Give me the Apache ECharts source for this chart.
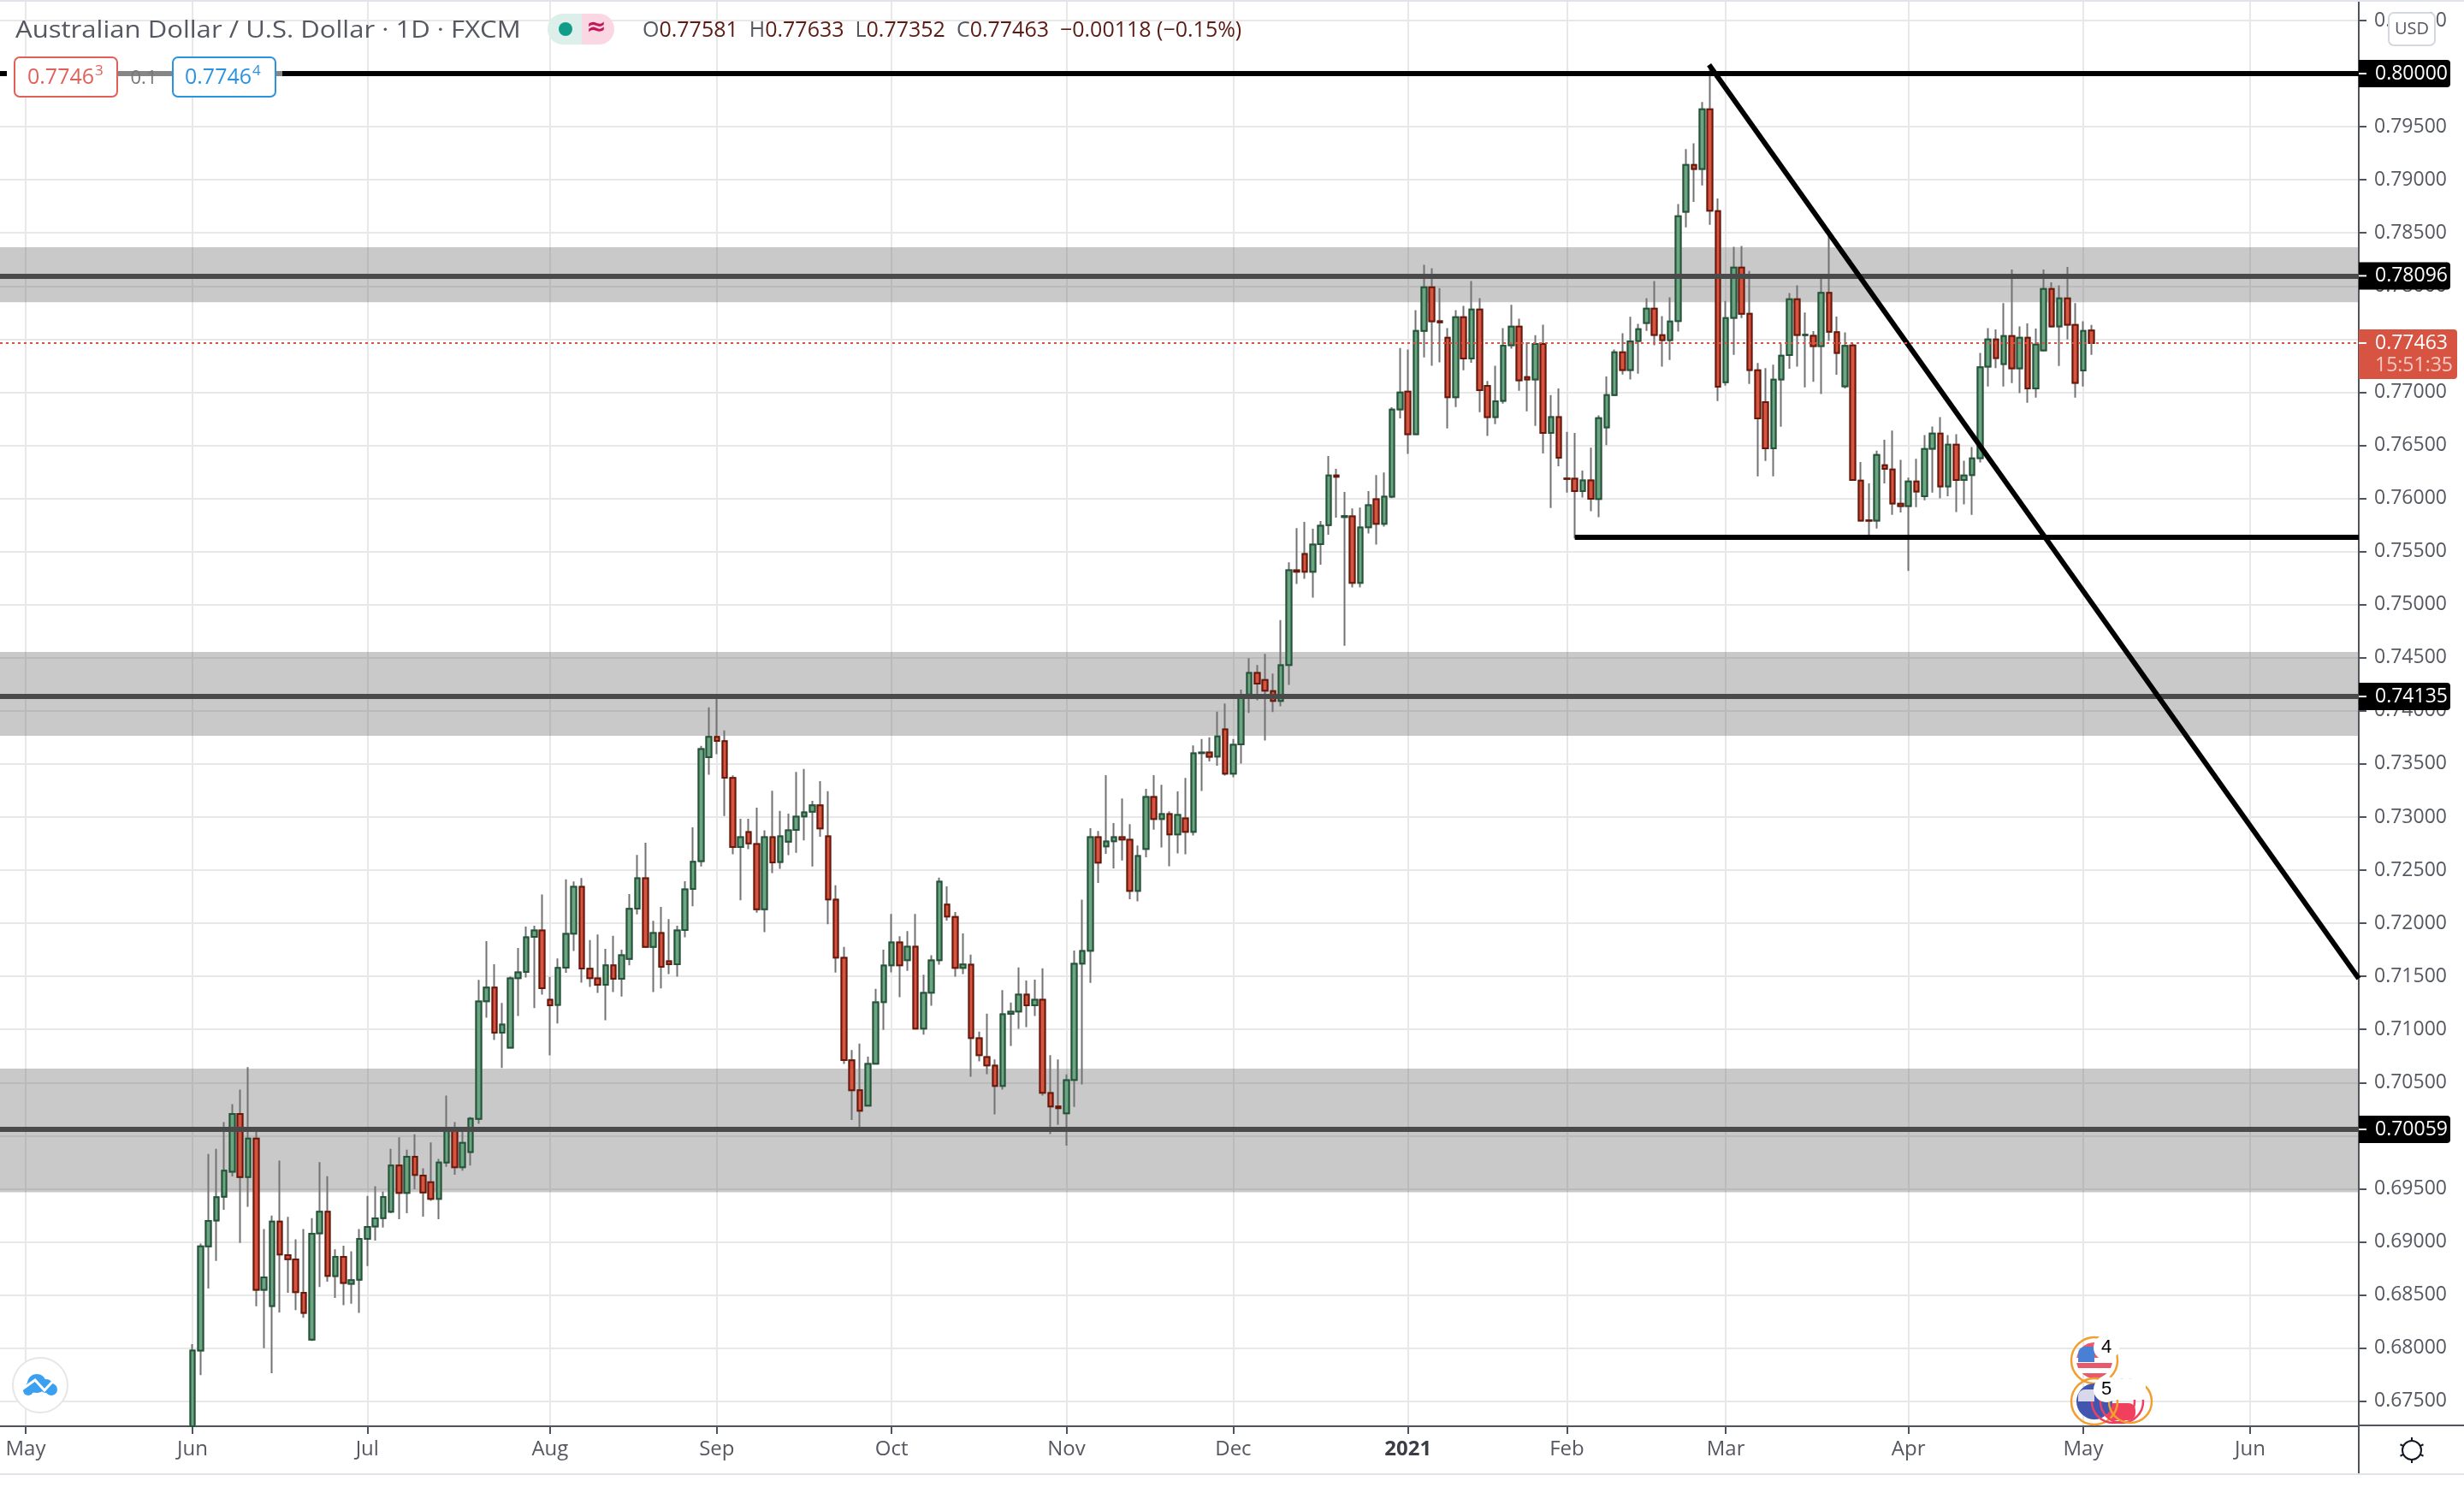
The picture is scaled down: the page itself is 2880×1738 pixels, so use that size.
<![CDATA[<!DOCTYPE html>
<html><head><meta charset="utf-8">
<style>html,body{margin:0;padding:0;background:#fff}#c{width:2880px;height:1738px}</style>
<script src="https://cdn.jsdelivr.net/npm/echarts@6/dist/echarts.min.js"></script>
</head><body><div id="c"></div>
<script>
const monthBars=[0,21,43,66,87,109,131,152,174,194,214,237,259,280];
const monthLabels=['May','Jun','Jul','Aug','Sep','Oct','Nov','Dec','{b|2021}','Feb','Mar','Apr','May','Jun'];
const priceTicks=[0.675,0.68,0.685,0.69,0.695,0.7,0.705,0.71,0.715,0.72,0.725,0.73,0.735,0.74,0.745,0.75,0.755,0.76,0.765,0.77,0.775,0.78,0.785,0.79,0.795,0.8,0.805];
const firstCandleBar=21;
const opens=[.67264,.67977,.68957,.69202,.69425,.69660,.70204,.69611,.69973,.68549,.68396,.69191,.68875,.68835,.68521,.68080,.69080,.69284,.68677,.68859,
.68606,.68644,.69028,.69145,.69224,.69284,.69720,.69461,.69801,.69624,.69562,.69404,.69747,.70074,.69703,.69845,.70158,.71266,.71394,.70969,
.70828,.71484,.71541,.71871,.71933,.71280,.71231,.71582,.71903,.72344,.71571,.71481,.71421,.71604,.71478,.71664,.72138,.72423,.71778,.71909,
.71642,.71615,.71936,.72323,.72584,.73564,.73755,.73714,.73368,.72717,.72859,.72747,.72132,.72810,.72576,.72769,.72878,.73006,.73050,.73110,
.72818,.72222,.71675,.70710,.70428,.70283,.70678,.71258,.71604,.71819,.71653,.71779,.71008,.71347,.71653,.72176,.72060,.71580,.71610,.70917,
.70740,.70659,.70469,.71146,.71169,.71328,.71228,.71279,.70401,.70275,.70211,.70525,.71621,.71741,.72810,.72724,.72772,.72810,.72786,.72305,
.72700,.73189,.72982,.73027,.72837,.72987,.72861,.73602,.73607,.73570,.73825,.73409,.73685,.74153,.74357,.74290,.74185,.74094,.74432,.75323,
.75476,.75310,.75570,.75748,.76217,.75825,.75831,.75205,.75729,.75992,.75761,.76016,.76839,.77005,.76605,.77577,.77988,.77669,.77513,.76954,
.77706,.77317,.77779,.77059,.76766,.76919,.77443,.77618,.77142,.77121,.77454,.76616,.76766,.76188,.76185,.76070,.76169,.75995,.76670,.76973,
.77376,.77209,.77483,.77652,.77786,.77537,.77491,.77671,.78699,.79140,.79102,.79663,.78705,.77094,.77700,.78173,.77738,.77206,.76906,.76471,
.77121,.77349,.77875,.77537,.77532,.77434,.77937,.77565,.77056,.77440,.76168,.75794,.75792,.76313,.76272,.75950,.75929,.76160,.76020,.76468,
.76611,.76114,.76506,.76173,.76221,.76380,.77242,.77497,.77266,.77529,.77226,.77513,.77035,.77395,.77972,.77620,.77883,.77634,.77204,.77581];
const closes=[.67977,.68957,.69197,.69420,.69671,.70204,.69611,.69973,.68549,.68666,.69191,.68881,.68837,.68527,.68331,.69077,.69284,.68679,.68859,.68614,
.68639,.69028,.69142,.69221,.69423,.69720,.69461,.69801,.69630,.69466,.69404,.69747,.70074,.69703,.69932,.70161,.71263,.71394,.70969,.71046,
.71481,.71538,.71868,.71933,.71389,.71228,.71579,.71901,.72344,.71574,.71484,.71421,.71604,.71478,.71699,.72135,.72423,.71778,.71909,.71590,
.71615,.71933,.72320,.72579,.73641,.73755,.73717,.73371,.72717,.72810,.72753,.72132,.72810,.72573,.72818,.72875,.73003,.73044,.73110,.72894,
.72225,.71677,.70711,.70428,.70235,.70675,.71255,.71602,.71819,.71604,.71779,.71008,.71344,.71650,.72391,.72063,.71580,.71612,.70920,.70759,
.70662,.70469,.71143,.71167,.71328,.71228,.71279,.70404,.70275,.70259,.70522,.71618,.71739,.72810,.72571,.72770,.72810,.72788,.72305,.72633,
.73189,.72982,.73027,.72837,.73019,.72861,.73599,.73607,.73567,.73760,.73409,.73680,.74147,.74357,.74257,.74190,.74094,.74429,.75323,.75310,
.75310,.75565,.75742,.76217,.76204,.75834,.75205,.75726,.75936,.75761,.76016,.76836,.76997,.76605,.77577,.77988,.77669,.77658,.76954,.77706,
.77317,.77779,.77019,.76766,.76914,.77438,.77618,.77113,.77121,.77454,.76616,.76766,.76384,.76183,.76070,.76169,.75997,.76756,.76973,.77376,
.77209,.77478,.77593,.77786,.77539,.77491,.77666,.78656,.79140,.79102,.79663,.78710,.77051,.77698,.78173,.77738,.77209,.76753,.76471,.77118,
.77343,.77875,.77539,.77542,.77434,.77937,.77569,.77371,.77437,.76173,.75792,.75790,.76409,.76278,.75953,.75929,.76160,.76066,.76466,.76611,
.76114,.76506,.76173,.76216,.76377,.77236,.77497,.77322,.77529,.77226,.77513,.77035,.77448,.77972,.77620,.77883,.77636,.77089,.77577,.77463];
const lows=[.67264,.67745,.68562,.68821,.69303,.69616,.68990,.69330,.68393,.67999,.67764,.68336,.68521,.68358,.68285,.68067,.68576,.68625,.68472,.68404,
.68418,.68331,.68772,.69012,.69134,.69270,.69213,.69270,.69496,.69238,.69387,.69213,.69706,.69632,.69671,.69720,.70112,.71111,.70901,.70637,
.70820,.71127,.71489,.71201,.71329,.70757,.71056,.71533,.71740,.71440,.71400,.71345,.71086,.71353,.71310,.71604,.72083,.71772,.71353,.71386,
.71522,.71498,.71868,.72159,.72535,.73398,.73592,.73009,.72649,.72216,.72698,.72099,.71917,.72472,.72513,.72641,.72663,.72780,.72535,.72815,
.71990,.71536,.70675,.70149,.70055,.70283,.70678,.70995,.71537,.71304,.71551,.71000,.70952,.71223,.71610,.72026,.71497,.71521,.70555,.70700,
.70579,.70200,.70434,.70844,.71006,.71022,.71126,.70377,.70015,.70101,.69907,.70270,.70482,.71438,.72380,.72654,.72517,.72590,.72227,.72206,
.72622,.72880,.72713,.72536,.72657,.72649,.72826,.73245,.73524,.73484,.73390,.73374,.73503,.73981,.74099,.73720,.73989,.74043,.74244,.75195,
.75243,.75066,.75377,.75659,.75820,.74612,.75162,.75162,.75670,.75565,.75734,.76002,.76753,.76419,.76597,.77328,.77250,.77282,.76659,.76860,
.77207,.77277,.76812,.76589,.76699,.76893,.77411,.77013,.76820,.76683,.76424,.75909,.76303,.76054,.75624,.76008,.75879,.75823,.76503,.76968,
.77166,.77121,.77174,.77577,.77443,.77241,.77303,.77572,.78552,.78791,.78946,.78576,.76916,.77061,.77351,.77698,.77078,.76208,.76353,.76208,
.76675,.77222,.77241,.77045,.77099,.76984,.77483,.77164,.77035,.76168,.75784,.75625,.75717,.76141,.75845,.75867,.75317,.75918,.75982,.76055,
.76000,.76020,.75872,.75945,.75845,.76339,.77054,.77228,.77054,.77086,.76992,.76901,.76949,.77384,.77609,.77247,.77497,.76949,.77054,.77352];
const highs=[.68037,.68984,.69828,.69877,.70128,.70297,.70433,.70645,.70046,.69120,.69248,.69766,.69235,.69025,.69120,.69224,.69752,.69619,.68930,.68963,
.68911,.69120,.69434,.69523,.69474,.69877,.69984,.69869,.70014,.69692,.69937,.69782,.70378,.70128,.70052,.70177,.71468,.71832,.71615,.71250,
.71500,.71767,.71969,.71977,.72271,.71495,.71669,.72413,.72393,.72426,.71841,.71895,.71759,.71882,.71751,.72274,.72644,.72758,.72023,.72154,
.72039,.71977,.72396,.72903,.73671,.74033,.74142,.73815,.73393,.72984,.72984,.73088,.72875,.73248,.73058,.73033,.73425,.73453,.73153,.73338,
.73243,.72358,.71778,.70807,.70866,.70745,.71382,.71752,.72088,.71878,.71927,.72088,.71516,.71698,.72429,.72348,.72106,.71905,.71704,.70979,
.71148,.70718,.71371,.71253,.71583,.71462,.71470,.71575,.70759,.70718,.70576,.71744,.72222,.72896,.72869,.73395,.72944,.73175,.72933,.72732,
.73266,.73395,.73304,.73054,.73242,.73368,.73675,.73734,.73750,.73992,.74069,.73734,.74201,.74496,.74432,.74537,.74351,.74854,.75399,.75721,
.75780,.75715,.75788,.76400,.76279,.76062,.75906,.75914,.76070,.76220,.76244,.76858,.77416,.77403,.77773,.78200,.78168,.77980,.77604,.77773,
.77814,.78047,.77886,.77107,.77250,.77604,.77824,.77693,.77470,.77537,.77636,.76973,.77035,.76626,.76616,.76263,.76478,.76783,.77148,.77403,
.77556,.77711,.77644,.77886,.78047,.77717,.77894,.78772,.79290,.79344,.79733,.80080,.78825,.77859,.78369,.78377,.78141,.77276,.77228,.77260,
.77456,.77934,.78007,.77751,.77575,.78101,.78489,.77713,.77564,.77456,.76342,.76141,.76450,.76552,.76638,.76364,.76195,.76374,.76597,.76678,
.76766,.76597,.76605,.76356,.76484,.77371,.77604,.77591,.77840,.78155,.77620,.77647,.77599,.78155,.78034,.78007,.78179,.77840,.77669,.77633];
const levelLines=[0.8,0.78096,0.74135,0.70059];
const levelColors=['#000000','#4a4a4a','#4a4a4a','#4a4a4a'];
const zoneTops=[0.78365,0.74555,0.70632];
const zoneBottoms=[0.77847,0.73765,0.69468];
const trendLine=[[211.9,0.80083],[293.68,0.7148]];
const supportLine=[[195,0.75634],[293.68,0.75634]];
const lastPrice=0.77463;
const xMin=-3.23,xMax=293.68,yMin=0.67264,yMax=0.80677;
const FONT='"Open Sans"';
const AX='#50535e',TXT='#555860';

const chart=echarts.init(document.getElementById('c'),null,{renderer:'canvas',devicePixelRatio:1});
const x=opens.map((_,i)=>firstCandleBar+i);
const wick=opens.map((o,i)=>[x[i],o,closes[i],lows[i],highs[i]]);
const body=opens.map((o,i)=>[x[i],o,closes[i],Math.min(o,closes[i]),Math.max(o,closes[i])]);
const thick=(c,w)=>({color:c,width:w,type:'solid',cap:'butt'});
const acrossChart=(v,style)=>[{coord:[xMin,v],lineStyle:style},{coord:[xMax,v]}];
chart.setOption({
 animation:false,backgroundColor:'#fff',
 grid:{left:0,right:123,top:2,bottom:71,containLabel:false},
 xAxis:{type:'value',min:xMin,max:xMax,
  axisLine:{onZero:false,lineStyle:{color:AX,width:2}},
  axisTick:{customValues:monthBars,length:9,lineStyle:{color:AX,width:2}},
  axisLabel:{customValues:monthBars,margin:15,color:TXT,fontFamily:FONT,fontSize:24,
   formatter:v=>monthLabels[monthBars.indexOf(v)]||'',
   rich:{b:{fontFamily:FONT,fontSize:24,fontWeight:'bold',color:'#3a3d45'}}},
  splitLine:{show:true,lineStyle:{color:'#e8e8e8',width:2}}},
 yAxis:{type:'value',position:'right',min:yMin,max:yMax,
  axisLine:{show:true,onZero:false,lineStyle:{color:AX,width:2}},
  axisTick:{show:true,customValues:priceTicks,length:9,lineStyle:{color:AX,width:2}},
  axisLabel:{customValues:priceTicks,margin:18,color:TXT,fontFamily:FONT,fontSize:23,formatter:v=>v.toFixed(5)},
  splitLine:{show:true,lineStyle:{color:'#e8e8e8',width:2}}},
 series:[
  {type:'line',name:'zones',z:1,data:[],silent:true,
   markArea:{silent:true,itemStyle:{color:'rgba(100,100,100,0.35)'},
    data:zoneTops.map((t,i)=>[{yAxis:t},{yAxis:zoneBottoms[i]}])}},
  {type:'line',name:'levels',z:2,data:[],silent:true,
   markLine:{silent:true,symbol:'none',precision:5,label:{show:false},animation:false,
    data:levelLines.map((v,i)=>acrossChart(v,thick(levelColors[i],6)))
     .concat([[{coord:supportLine[0],lineStyle:thick('#000',6)},{coord:supportLine[1]}],
              [{coord:trendLine[0],lineStyle:thick('#000',6)},{coord:trendLine[1]}]])}},
  {type:'candlestick',name:'wicks',z:3,data:wick,encode:{x:0,y:[1,2,3,4]},barWidth:6,silent:true,
   itemStyle:{color:'#737375',color0:'#737375',borderColor:'#737375',borderColor0:'#737375',borderWidth:2}},
  {type:'candlestick',name:'AUDUSD',z:4,data:body,encode:{x:0,y:[1,2,3,4]},barWidth:6,silent:true,
   itemStyle:{color:'#6ba583',color0:'#d75442',borderColor:'#225437',borderColor0:'#6b1707',borderWidth:2}},
  {type:'line',name:'last',z:5,data:[],silent:true,
   markLine:{silent:true,symbol:'none',precision:5,label:{show:false},animation:false,
    data:[acrossChart(lastPrice,{color:'#d75442',width:2,type:[3,4]})]}}
 ]
});

const py=v=>chart.convertToPixel({yAxisIndex:0},v);
const RIGHT=2757;
const tag=(v)=>[
 {type:'rect',z:60,shape:{x:RIGHT,y:py(v)-16,width:107,height:32,r:[0,4,4,0]},style:{fill:'#000'}},
 {type:'rect',z:61,shape:{x:RIGHT,y:py(v)-1,width:9,height:2},style:{fill:'#fff'}},
 {type:'text',z:62,style:{x:2776,y:py(v),text:v.toFixed(5),fill:'#fff',font:'23px '+FONT,textVerticalAlign:'middle'}}
];
const ringFlag=[];
const ring=(cx,cy,r,c)=>({type:'circle',z:50,shape:{cx,cy,r},style:{fill:'none',stroke:c,lineWidth:2.5}});
const stripes=(a,b)=>{const s=[];const n=7;for(let i=0;i<n;i++){s.push({offset:i/n,color:i%2?b:a},{offset:(i+1)/n,color:i%2?b:a});}return {type:'linear',x:0,y:0,x2:0,y2:1,colorStops:s};};
ringFlag.push(
 {type:'circle',z:50,shape:{cx:2448,cy:1590,r:21},style:{fill:stripes('#e8596a','#ffffff')}},
 {type:'rect',z:51,shape:{x:2429,y:1574,width:19,height:18,r:[8,0,0,0]},style:{fill:'#4a7fd6'}},
 ring(2448,1590,27,'#f0a030'),
 {type:'circle',z:52,shape:{cx:2462,cy:1575,r:15},style:{fill:'#fff'}},
 {type:'text',z:53,style:{x:2462,y:1575,text:'4',fill:'#000',font:'22px "Liberation Sans"',textAlign:'center',textVerticalAlign:'middle'}},
 {type:'rect',z:50,shape:{x:2462,y:1640,width:34,height:20,r:8},style:{fill:'#f0405e'}},
 {type:'circle',z:50,shape:{cx:2448,cy:1638,r:21},style:{fill:'#4056b0'}},
 {type:'rect',z:51,shape:{x:2429,y:1624,width:19,height:14,r:[8,0,0,0]},style:{fill:'#d8d8ea'}},
 ring(2448,1638,27,'#f0a030'),ring(2470,1638,25,'#f0405e'),ring(2480,1638,25,'#f0405e'),ring(2490,1638,25,'#f0a030'),
 {type:'rect',z:52,shape:{x:2470,y:1612,width:38,height:24},style:{fill:'#fff'}},
 {type:'circle',z:52,shape:{cx:2462,cy:1624,r:15},style:{fill:'#fff'}},
 {type:'text',z:53,style:{x:2462,y:1624,text:'5',fill:'#000',font:'22px "Liberation Sans"',textAlign:'center',textVerticalAlign:'middle'}}
);
const gear=[{type:'circle',z:50,shape:{cx:2819,cy:1695,r:11},style:{fill:'none',stroke:'#131722',lineWidth:2}}];
[[0,-1],[0,1],[.9,.45],[-.9,.45],[.9,-.45],[-.9,-.45]].forEach(d=>gear.push({type:'line',z:50,shape:{x1:2819+d[0]*11,y1:1695+d[1]*11,x2:2819+d[0]*15,y2:1695+d[1]*15},style:{stroke:'#131722',lineWidth:2}}));
const cloud=[[37,1621,7],[43,1617,11],[54,1620,8],[60,1624,7],[33,1625,6]].map(c=>({type:'circle',z:42,shape:{cx:c[0],cy:c[1],r:c[2]},style:{fill:'#3aa0ef'}}));

chart.setOption({graphic:{elements:[
 {type:'rect',z:40,shape:{x:0,y:0,width:2880,height:2},style:{fill:'#e0e3eb'}},
 {type:'rect',z:40,shape:{x:0,y:1722,width:2880,height:2},style:{fill:'#e0e3eb'}},
 {type:'line',z:40,shape:{x1:RIGHT,y1:1666,x2:2880,y2:1666},style:{stroke:AX,lineWidth:2}},
 {type:'line',z:40,shape:{x1:RIGHT,y1:1666,x2:RIGHT,y2:1722},style:{stroke:AX,lineWidth:2}},
 {type:'text',z:41,x:18,y:36,scaleX:1.11,style:{x:0,y:0,text:'Australian Dollar / U.S. Dollar · 1D · FXCM',fill:'#555860',font:'28px '+FONT,textVerticalAlign:'middle'}},
 {type:'rect',z:41,shape:{x:640,y:16,width:40,height:36,r:[18,0,0,18]},style:{fill:'#dcefeb'}},
 {type:'rect',z:41,shape:{x:680,y:16,width:38,height:36,r:[0,18,18,0]},style:{fill:'#fbd7e3'}},
 {type:'circle',z:42,shape:{cx:661,cy:34,r:8},style:{fill:'#0f9d8a'}},
 {type:'text',z:42,style:{x:697,y:33,text:'≈',fill:'#c2185b',font:'bold 28px "DejaVu Sans"',textAlign:'center',textVerticalAlign:'middle'}},
 {type:'text',z:41,style:{x:751,y:36,textVerticalAlign:'middle',
   text:'{l|O}{v|0.77581}  {l|H}{v|0.77633}  {l|L}{v|0.77352}  {l|C}{v|0.77463}  {v|−0.00118 (−0.15%)}',
   rich:{l:{fill:'#555860',font:'25px '+FONT},v:{fill:'#5b1a13',font:'25px '+FONT}},font:'25px '+FONT}},
 {type:'rect',z:41,shape:{x:137,y:83,width:193,height:6},style:{fill:'#868686'}},
 {type:'rect',z:41,shape:{x:8,y:83,width:8,height:6},style:{fill:'#ffffff'}},
 {type:'text',z:43,style:{x:168,y:92,text:'0.1',fill:'#777',font:'22px '+FONT,textAlign:'center',textVerticalAlign:'middle'}},
 {type:'rect',z:42,shape:{x:17,y:67,width:120,height:46,r:6},style:{fill:'#fff',stroke:'#e0605a',lineWidth:2}},
 {type:'text',z:43,style:{x:32,y:91,text:'0.7746',fill:'#e0605a',font:'25px '+FONT,textVerticalAlign:'middle'}},
 {type:'text',z:43,style:{x:111,y:83,text:'3',fill:'#e0605a',font:'17px '+FONT,textVerticalAlign:'middle'}},
 {type:'rect',z:42,shape:{x:202,y:67,width:120,height:46,r:6},style:{fill:'#fff',stroke:'#2a93e0',lineWidth:2}},
 {type:'text',z:43,style:{x:216,y:91,text:'0.7746',fill:'#2a93e0',font:'25px '+FONT,textVerticalAlign:'middle'}},
 {type:'text',z:43,style:{x:295,y:83,text:'4',fill:'#2a93e0',font:'17px '+FONT,textVerticalAlign:'middle'}},
 {type:'rect',z:70,shape:{x:2792,y:15,width:54,height:38,r:6},style:{fill:'#fff',stroke:'#d6d8e0',lineWidth:2}},
 {type:'text',z:71,style:{x:2819,y:34,text:'USD',fill:'#555860',font:'20px '+FONT,textAlign:'center',textVerticalAlign:'middle'}},
 ...tag(0.8),...tag(0.78096),...tag(0.74135),...tag(0.70059),
 {type:'rect',z:60,shape:{x:RIGHT,y:py(lastPrice)-16,width:115,height:58,r:[0,4,4,0]},style:{fill:'#d75442'}},
 {type:'rect',z:61,shape:{x:RIGHT,y:py(lastPrice)-1,width:9,height:2},style:{fill:'#fff'}},
 {type:'text',z:62,style:{x:2776,y:py(lastPrice),text:lastPrice.toFixed(5),fill:'#fff',font:'23px '+FONT,textVerticalAlign:'middle'}},
 {type:'text',z:62,style:{x:2776,y:py(lastPrice)+26,text:'15:51:35',fill:'#f7c9c2',font:'23px '+FONT,textVerticalAlign:'middle'}},
 {type:'circle',z:41,shape:{cx:47,cy:1619,r:32},style:{fill:'#fff',stroke:'#e6e6e6',lineWidth:2}},
 ...cloud,
 {type:'polyline',z:43,shape:{points:[[24,1625],[41,1613],[52,1625],[64,1612]]},style:{fill:'none',stroke:'#fff',lineWidth:3}},
 ...ringFlag,...gear
]}});
</script></body></html>]]>
